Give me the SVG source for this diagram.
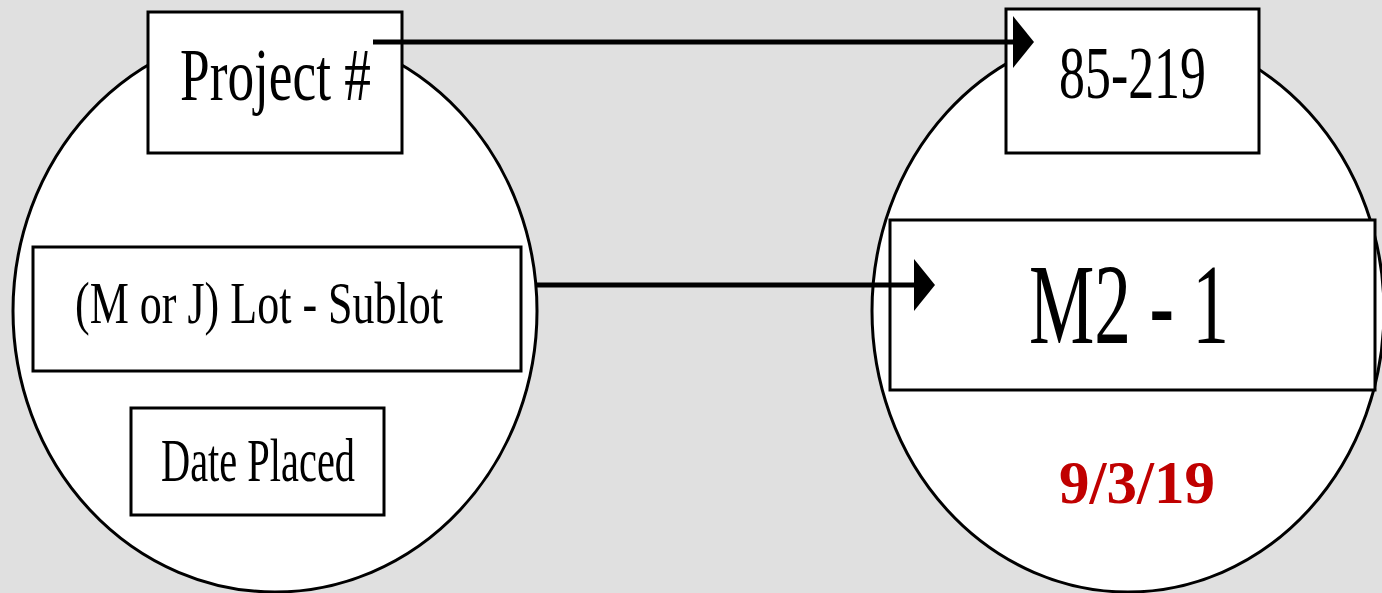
<svg xmlns="http://www.w3.org/2000/svg" width="1382" height="593" viewBox="0 0 1382 593">
  <style>
    .shape { fill: #ffffff; stroke: #000000; stroke-width: 3; }
    .box { fill: #ffffff; stroke: #000000; stroke-width: 3; }
    .t { font-family: "Liberation Serif", "Times New Roman", serif; fill: #000000; }
    .date { font-family: "Liberation Serif", "Times New Roman", serif; font-weight: bold; fill: #c00000; }
    .conn { stroke: #000000; stroke-width: 5; fill: none; }
  </style>
  <defs>
    <marker id="head" markerUnits="userSpaceOnUse" markerWidth="22" markerHeight="52" refX="0" refY="26" orient="auto">
      <polygon points="0,0 21,26 0,52" fill="#000000"/>
    </marker>
  </defs>
  <rect x="0" y="0" width="1382" height="593" fill="#e0e0e0"/>

  <g id="left-ellipse">
    <ellipse class="shape" cx="275" cy="311" rx="262" ry="281"/>
  </g>
  <g id="right-ellipse">
    <ellipse class="shape" cx="1128" cy="311" rx="256" ry="281"/>
  </g>

  <g id="node-project">
    <rect class="box" x="148" y="12" width="254" height="141"/>
    <text class="t" x="180" y="100" font-size="75" textLength="191" lengthAdjust="spacingAndGlyphs">Project #</text>
  </g>
  <g id="node-lot">
    <rect class="box" x="33" y="247" width="488" height="124"/>
    <text class="t" x="75" y="323" font-size="60" textLength="368" lengthAdjust="spacingAndGlyphs">(M or J) Lot - Sublot</text>
  </g>
  <g id="node-date">
    <rect class="box" x="131" y="408" width="253" height="107"/>
    <text class="t" x="161" y="481" font-size="61" textLength="194" lengthAdjust="spacingAndGlyphs">Date Placed</text>
  </g>
  <g id="node-85-219">
    <rect class="box" x="1006" y="9" width="253" height="144"/>
    <text class="t" x="1059" y="98" font-size="75" textLength="147" lengthAdjust="spacingAndGlyphs">85-219</text>
  </g>
  <g id="node-m2-1">
    <rect class="box" x="890" y="220" width="485" height="170"/>
    <text class="t" x="1029" y="343" font-size="115" textLength="200" lengthAdjust="spacingAndGlyphs">M2 - 1</text>
  </g>
  <g id="node-9-3-19">
    <text class="date" x="1137" y="503" font-size="61" text-anchor="middle">9/3/19</text>
  </g>

  <g id="connectors">
    <line class="conn" x1="373" y1="42" x2="1013" y2="42" marker-end="url(#head)"/>
    <line class="conn" x1="537" y1="285" x2="914" y2="285" marker-end="url(#head)"/>
  </g>
</svg>
